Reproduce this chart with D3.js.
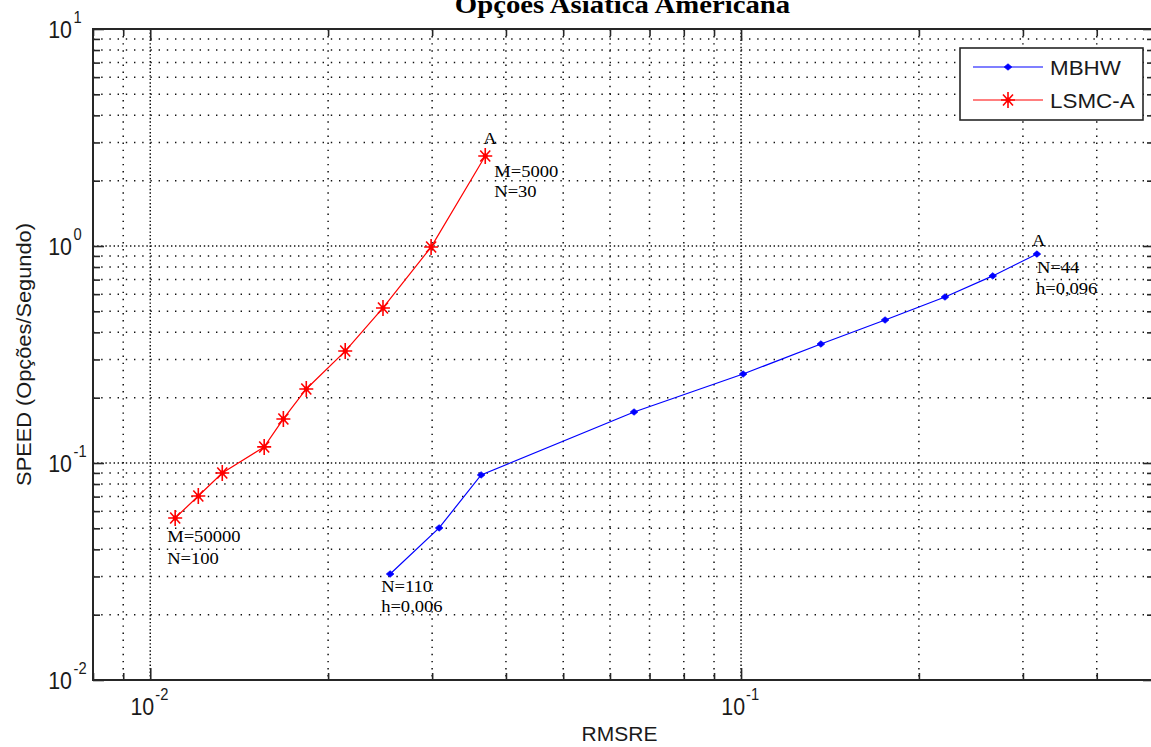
<!DOCTYPE html>
<html>
<head>
<meta charset="utf-8">
<script src="https://cdnjs.cloudflare.com/ajax/libs/d3/7.8.5/d3.min.js"></script>
<style>
  html, body { margin: 0; padding: 0; background: #fff; overflow: hidden; }
  svg { display: block; }
</style>
</head>
<body>
<svg id="chart" width="1151" height="747"></svg>
<script>
// Error (RMSRE) versus speed (options per second) for two pricing methods
const seriesNames = ["MBHW", "LSMC-A"];
const rmsreMBHW = [0.02547, 0.03083, 0.03631, 0.0659, 0.1008, 0.1365, 0.1753, 0.2214, 0.2667, 0.3168];
const speedMBHW = [0.0308, 0.0502, 0.0881, 0.1718, 0.257, 0.3535, 0.456, 0.582, 0.728, 0.918];
const rmsreLSMC = [0.01102, 0.01206, 0.01324, 0.01559, 0.0168, 0.01837, 0.02138, 0.02477, 0.02988, 0.0369];
const speedLSMC = [0.0558, 0.0705, 0.0899, 0.1186, 0.1596, 0.2193, 0.328, 0.518, 0.989, 2.598];

const xDomain = [0.008, 0.5];
const yDomain = [0.01, 10];
const xTickExps = [-2, -1];
const yTickExps = [-2, -1, 0, 1];

const titleText = "Opções Asiatica Americana";
const xLabel = "RMSRE";
const yLabel = "SPEED (Opções/Segundo)";

// annotation text attached to the ends of each curve
const notesMBHW = { first: ["N=110", "h=0,006"], last: ["A", "N=44", "h=0,096"] };
const notesLSMC = { first: ["M=50000", "N=100"], last: ["A", "M=5000", "N=30"] };

const svg = d3.select("#chart");
const pLeft = 93, pRight = 1154, pTop = 29, pBottom = 680;

const x = d3.scaleLog().domain(xDomain).range([pLeft, pRight]);
const y = d3.scaleLog().domain(yDomain).range([pBottom, pTop]);

const isMajor = v => Math.abs(Math.log10(v) - Math.round(Math.log10(v))) < 1e-9;
const xTicks = x.ticks();
const yTicks = y.ticks();
const xMinor = xTicks.filter(v => !isMajor(v));
const yMinor = yTicks.filter(v => !isMajor(v));
const xMajor = xTickExps.map(e => Math.pow(10, e));
const yMajor = yTickExps.map(e => Math.pow(10, e));

const sans = "'Liberation Sans', Arial, Helvetica, sans-serif";
const serif = "'Liberation Serif', 'Times New Roman', serif";

// ---- grid (dotted, major and minor) ----
const grid = svg.append("g").attr("stroke", "#111").attr("stroke-width", 1.5).attr("fill", "none");
function vGrid(vals, dash, off) {
  grid.selectAll(null).data(vals.filter(v => x(v) > pLeft + 1 && x(v) < pRight - 1)).enter()
    .append("line")
    .attr("x1", d => x(d)).attr("x2", d => x(d))
    .attr("y1", pTop).attr("y2", pBottom)
    .attr("stroke-dasharray", dash).attr("stroke-dashoffset", off);
}
function hGrid(vals, dash, off) {
  grid.selectAll(null).data(vals.filter(v => y(v) > pTop + 1 && y(v) < pBottom - 1)).enter()
    .append("line")
    .attr("x1", pLeft).attr("x2", pRight)
    .attr("y1", d => y(d)).attr("y2", d => y(d))
    .attr("stroke-dasharray", dash).attr("stroke-dashoffset", off);
}
vGrid(xMinor, "1.4,5.7", 0);
hGrid(yMinor, "1.4,6.8", 0);
vGrid(xMajor, "1.4,5.7", 0);
vGrid(xMajor, "1.4,5.7", 3.5);
hGrid(yMajor, "1.4,6.8", 0);
hGrid(yMajor, "1.4,6.8", 4);

// ---- axes box and inward ticks ----
const axisColor = "#262626";
function tickAxis(axisGen, transform, vals, size) {
  const g = svg.append("g").attr("transform", transform)
    .call(axisGen.tickValues(vals).tickSize(size).tickSizeOuter(0).tickFormat(""));
  g.select(".domain").remove();
  g.selectAll(".tick line").attr("stroke", axisColor).attr("stroke-width", 1.6);
  return g;
}
tickAxis(d3.axisBottom(x), `translate(0,${pBottom})`, xMinor, -7);
tickAxis(d3.axisBottom(x), `translate(0,${pBottom})`, xMajor, -12);
tickAxis(d3.axisTop(x), `translate(0,${pTop})`, xMinor, -7);
tickAxis(d3.axisTop(x), `translate(0,${pTop})`, xMajor, -12);
tickAxis(d3.axisLeft(y), `translate(${pLeft},0)`, yMinor, -7);
tickAxis(d3.axisLeft(y), `translate(${pLeft},0)`, yMajor, -11);
tickAxis(d3.axisRight(y), `translate(${pRight},0)`, yMinor, -7);
tickAxis(d3.axisRight(y), `translate(${pRight},0)`, yMajor, -11);

svg.append("rect")
  .attr("x", pLeft).attr("y", pTop)
  .attr("width", pRight - pLeft).attr("height", pBottom - pTop)
  .attr("fill", "none").attr("stroke", axisColor).attr("stroke-width", 2);

// ---- tick labels: 10 with superscript exponent ----
const tickLab = svg.append("g").attr("fill", "#1a1a1a").attr("font-family", sans);
yTickExps.forEach(e => {
  const py = y(Math.pow(10, e));
  tickLab.append("text").attr("transform", `translate(72,${py + 8.5}) scale(0.93,1.05)`)
    .attr("text-anchor", "end").attr("font-size", 23).text("10");
  tickLab.append("text").attr("transform", `translate(73.5,${py - 6.5}) scale(0.95,1.05)`)
    .attr("text-anchor", "start").attr("font-size", 15.5).text(String(e));
});
xTickExps.forEach(e => {
  const px = x(Math.pow(10, e));
  tickLab.append("text").attr("transform", `translate(${px + 4},715) scale(0.93,1.05)`)
    .attr("text-anchor", "end").attr("font-size", 23).text("10");
  tickLab.append("text").attr("transform", `translate(${px + 5},700) scale(0.95,1.05)`)
    .attr("text-anchor", "start").attr("font-size", 15.5).text(String(e));
});

// ---- axis labels and title ----
svg.append("text")
  .attr("transform", `translate(${(pLeft + pRight) / 2 - 4},741) scale(1.05,1)`)
  .attr("text-anchor", "middle").attr("font-family", sans).attr("font-size", 20)
  .attr("fill", "#1a1a1a").text(xLabel);

svg.append("text")
  .attr("transform", `translate(31,${(pTop + pBottom) / 2}) rotate(-90) scale(1.09,1)`)
  .attr("text-anchor", "middle").attr("font-family", sans).attr("font-size", 20)
  .attr("fill", "#1a1a1a").text(yLabel);

svg.append("text")
  .attr("transform", `translate(${(pLeft + pRight) / 2 - 1},13) scale(1.15,1)`)
  .attr("text-anchor", "middle").attr("font-family", serif).attr("font-size", 25)
  .attr("font-weight", "bold").attr("fill", "#000").text(titleText);

// ---- series ----
const mbhw = rmsreMBHW.map((r, i) => ({ r, s: speedMBHW[i] }));
const lsmc = rmsreLSMC.map((r, i) => ({ r, s: speedLSMC[i] }));
const line = d3.line().x(d => x(d.r)).y(d => y(d.s));

const blue = "#0000ff", red = "#ff0000";

svg.append("path").datum(mbhw).attr("d", line)
  .attr("fill", "none").attr("stroke", blue).attr("stroke-width", 1.2);
svg.append("path").datum(lsmc).attr("d", line)
  .attr("fill", "none").attr("stroke", red).attr("stroke-width", 1.2);

function dotMarker(g, cx, cy) {
  g.append("path")
    .attr("d", `M${cx - 3.8},${cy} L${cx},${cy - 3.2} L${cx + 3.8},${cy} L${cx},${cy + 3.2} Z`)
    .attr("fill", blue).attr("stroke", blue).attr("stroke-width", 0.8);
}
function starMarker(g, cx, cy) {
  const p = `M${cx - 7},${cy} L${cx + 7},${cy} M${cx},${cy - 8} L${cx},${cy + 8}` +
            ` M${cx - 5},${cy - 5.5} L${cx + 5},${cy + 5.5} M${cx - 5},${cy + 5.5} L${cx + 5},${cy - 5.5}`;
  g.append("path").attr("d", p).attr("stroke", red).attr("stroke-width", 1.6).attr("fill", "none");
  g.append("circle").attr("cx", cx).attr("cy", cy).attr("r", 2.5).attr("fill", red);
}

const mk = svg.append("g");
mbhw.forEach(d => dotMarker(mk, x(d.r), y(d.s)));
lsmc.forEach(d => starMarker(mk, x(d.r), y(d.s)));

// ---- point annotations ----
const notes = svg.append("g").attr("font-family", serif).attr("font-size", 16).attr("fill", "#000");
function note(px, py, dx, dy, str) {
  notes.append("text").attr("transform", `translate(${px + dx},${py + dy}) scale(1.16,1)`).text(str);
}
{
  const a = lsmc[lsmc.length - 1], ax = x(a.r), ay = y(a.s);
  note(ax, ay, -2, -12, notesLSMC.last[0]);
  note(ax, ay, 9, 21, notesLSMC.last[1]);
  note(ax, ay, 9, 41, notesLSMC.last[2]);
  const b = lsmc[0], bx = x(b.r), by = y(b.s);
  note(bx, by, -8, 24, notesLSMC.first[0]);
  note(bx, by, -8, 46, notesLSMC.first[1]);
  const c = mbhw[mbhw.length - 1], cx = x(c.r), cy = y(c.s);
  note(cx, cy, -5, -8, notesMBHW.last[0]);
  note(cx, cy, 0, 19, notesMBHW.last[1]);
  note(cx, cy, -1, 40, notesMBHW.last[2]);
  const e = mbhw[0], ex = x(e.r), ey = y(e.s);
  note(ex, ey, -9, 18, notesMBHW.first[0]);
  note(ex, ey, -9, 38, notesMBHW.first[1]);
}

// ---- legend ----
const lg = svg.append("g");
lg.append("rect").attr("x", 960).attr("y", 48).attr("width", 183).attr("height", 72)
  .attr("fill", "#fff").attr("stroke", axisColor).attr("stroke-width", 1.6);
const rows = [{ name: seriesNames[0], color: blue, yy: 67 }, { name: seriesNames[1], color: red, yy: 100 }];
rows.forEach((r, i) => {
  lg.append("line").attr("x1", 973).attr("x2", 1043).attr("y1", r.yy).attr("y2", r.yy)
    .attr("stroke", r.color).attr("stroke-width", 1.2);
  if (i === 0) dotMarker(lg, 1008, r.yy); else starMarker(lg, 1008, r.yy);
  lg.append("text").attr("transform", `translate(1050,${r.yy + 7.5}) scale(1.12,1)`)
    .attr("font-family", sans).attr("font-size", 20).attr("fill", "#1a1a1a").text(r.name);
});
</script>
</body>
</html>
